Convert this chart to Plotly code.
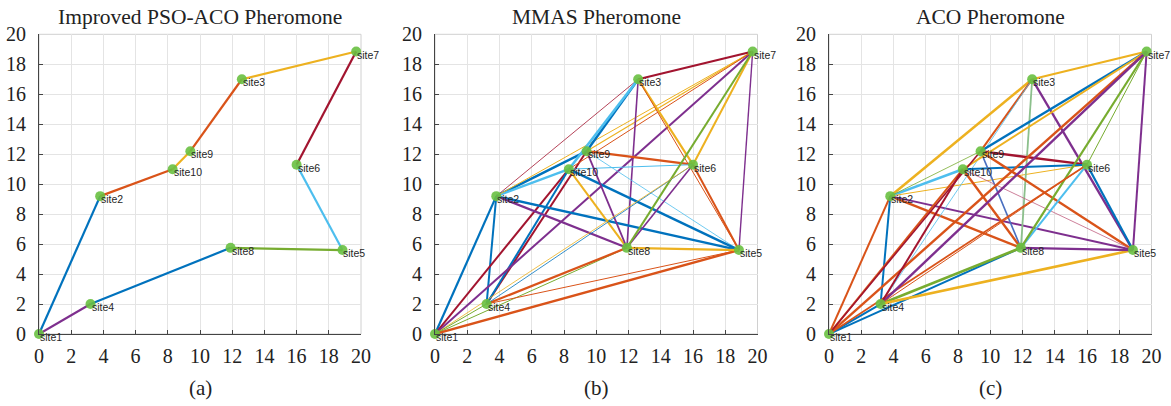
import plotly.graph_objects as go

# ---------------- data ----------------
site_names = ["site1", "site2", "site3", "site4", "site5",
              "site6", "site7", "site8", "site9", "site10"]
site_x = [0.0, 3.8, 12.6, 3.2, 18.85, 16.0, 19.7, 11.9, 9.4, 8.3]
site_y = [0.0, 9.2, 17.0, 2.0, 5.6, 11.3, 18.85, 5.75, 12.2, 11.0]

panel_titles = ["Improved PSO-ACO Pheromone", "MMAS Pheromone", "ACO Pheromone"]
panel_tags = ["(a)", "(b)", "(c)"]
tick_vals = [0, 2, 4, 6, 8, 10, 12, 14, 16, 18, 20]

# edges (1-based site numbers)
edges_a = [(1, 2), (2, 10), (10, 9), (9, 3), (3, 7), (7, 6), (6, 5), (5, 8), (8, 4), (4, 1)]
edges_b = [(1, 2), (2, 4), (1, 10), (4, 9), (4, 10), (1, 7), (1, 8), (4, 8), (4, 5), (1, 5),
           (2, 3), (2, 9), (2, 10), (2, 7), (9, 7), (10, 7), (9, 3), (10, 3), (3, 7), (3, 8),
           (3, 6), (3, 5), (9, 6), (10, 6), (9, 5), (10, 5), (2, 5), (2, 8), (10, 8), (9, 8),
           (6, 5), (6, 7), (6, 8), (8, 7), (8, 5), (5, 7), (4, 6), (1, 6), (1, 4)]
edges_c = [(1, 2), (2, 4), (1, 4), (1, 8), (4, 8), (4, 5), (2, 3), (2, 10), (2, 6), (2, 9),
           (2, 8), (2, 5), (3, 7), (3, 8), (3, 5), (3, 9), (4, 3), (9, 6), (10, 6), (9, 8),
           (9, 5), (10, 8), (10, 5), (9, 7), (10, 7), (6, 5), (6, 8), (6, 7), (8, 7), (8, 5),
           (5, 7), (1, 7), (1, 6), (1, 10), (4, 7), (4, 10), (4, 6), (1, 9)]

# ---------------- styles ----------------
B, O, Y, P, G, C, R = "#0072BD", "#D95319", "#EDB120", "#7E2F8E", "#77AC30", "#4DBEEE", "#A2142F"
colors_a = [B, O, Y, O, Y, R, C, G, B, P]
widths_a = [2.2] * 10
colors_b = [B, B, R, R, B, P, G, O, O, O,
            R, B, C, Y, Y, O, B, C, R, P,
            Y, O, O, C, C, B, B, P, Y, P,
            O, Y, P, G, Y, P, B, Y, G]
widths_b = [2.2, 2.0, 2.0, 2.0, 2.0, 2.0, 1.0, 2.2, 1.0, 2.4,
            0.8, 2.4, 2.4, 1.0, 1.2, 1.0, 2.4, 2.6, 2.2, 1.6,
            2.2, 1.0, 2.4, 1.0, 0.8, 2.4, 2.4, 2.2, 2.0, 1.8,
            2.0, 2.0, 1.6, 2.0, 2.4, 1.4, 0.8, 0.8, 1.0]
colors_c = [O, B, B, B, G, Y, Y, C, Y, G,
            O, P, Y, "#8CC08C", P, O, C, R, B, "#4A6FC0",
            O, O, "#C06080", B, Y, B, C, G, G, P,
            P, O, O, O, P, R, O, R]
widths_c = [2.0, 2.0, 2.0, 2.0, 2.6, 2.6, 2.6, 2.6, 1.0, 0.8,
            2.4, 2.0, 2.2, 1.8, 2.4, 2.0, 0.8, 2.4, 2.0, 1.6,
            2.4, 2.4, 0.8, 2.4, 2.0, 2.2, 2.0, 1.0, 2.2, 2.2,
            2.0, 2.4, 1.8, 2.0, 2.4, 2.0, 1.0, 1.6]

panels = [(edges_a, colors_a, widths_a), (edges_b, colors_b, widths_b), (edges_c, colors_c, widths_c)]

# pixel geometry of each axes box (figure 1171 x 406)
W, H = 1171, 406
x_px = [(39, 361), (435, 757.5), (829, 1151.5)]
y_px = (34.3, 334)  # top (20), bottom (0)

fig = go.Figure()
serif = "Liberation Serif, Times New Roman, serif"

for k, (edges, cols, wids) in enumerate(panels):
    xa = "x" if k == 0 else f"x{k+1}"
    ya = "y" if k == 0 else f"y{k+1}"
    for (i, j), c, w in zip(edges, cols, wids):
        fig.add_trace(go.Scatter(x=[site_x[i-1], site_x[j-1]], y=[site_y[i-1], site_y[j-1]],
                                 mode="lines", line=dict(color=c, width=w),
                                 xaxis=xa, yaxis=ya, showlegend=False, hoverinfo="skip"))
    fig.add_trace(go.Scatter(x=site_x, y=site_y, mode="markers",
                             marker=dict(color="rgba(105,192,65,0.9)", size=10),
                             cliponaxis=False, xaxis=xa, yaxis=ya, showlegend=False))
    for n, sx, sy in zip(site_names, site_x, site_y):
        fig.add_annotation(x=sx, y=sy, xref=xa, yref=ya, text=n, showarrow=False,
                           xanchor="left", yanchor="middle", xshift=-1, yshift=-3,
                           font=dict(family="Liberation Sans, Arial", size=10.5, color="#262626"))
    x0, x1 = x_px[k]
    dom_x = [x0 / W, x1 / W]
    dom_y = [(H - y_px[1]) / H, (H - y_px[0]) / H]
    axcommon = dict(range=[0, 20], tickvals=tick_vals, showgrid=True, gridcolor="#e4e4e4",
                    gridwidth=1, zeroline=False, showline=True, linecolor="#444", linewidth=1,
                    ticks="inside", ticklen=4, tickcolor="#444", automargin=False,
                    tickfont=dict(family=serif, size=20, color="#222"))
    fig.layout[("xaxis" if k == 0 else f"xaxis{k+1}")] = go.layout.XAxis(
        domain=dom_x, anchor=ya, ticklabelstandoff=4, **axcommon)
    fig.layout[("yaxis" if k == 0 else f"yaxis{k+1}")] = go.layout.YAxis(
        domain=dom_y, anchor=xa, ticklabelstandoff=8, **axcommon)
    # light box on top/right
    fig.add_shape(type="rect", xref="paper", yref="paper", x0=dom_x[0], x1=dom_x[1],
                  y0=dom_y[0], y1=dom_y[1], line=dict(color="#d0d0d0", width=1), layer="below")
    cx = (dom_x[0] + dom_x[1]) / 2
    fig.add_annotation(x=cx, y=(H - 17) / H, xref="paper", yref="paper", text=panel_titles[k],
                       showarrow=False, font=dict(family=serif, size=21.5, color="#222"),
                       xanchor="center", yanchor="middle")
    fig.add_annotation(x=cx, y=(H - 388) / H, xref="paper", yref="paper", text=panel_tags[k],
                       showarrow=False, font=dict(family=serif, size=21, color="#222"),
                       xanchor="center", yanchor="middle")

fig.update_layout(width=W, height=H, margin=dict(l=0, r=0, t=0, b=0),
                  paper_bgcolor="white", plot_bgcolor="white")
fig.write_html("out.html")
